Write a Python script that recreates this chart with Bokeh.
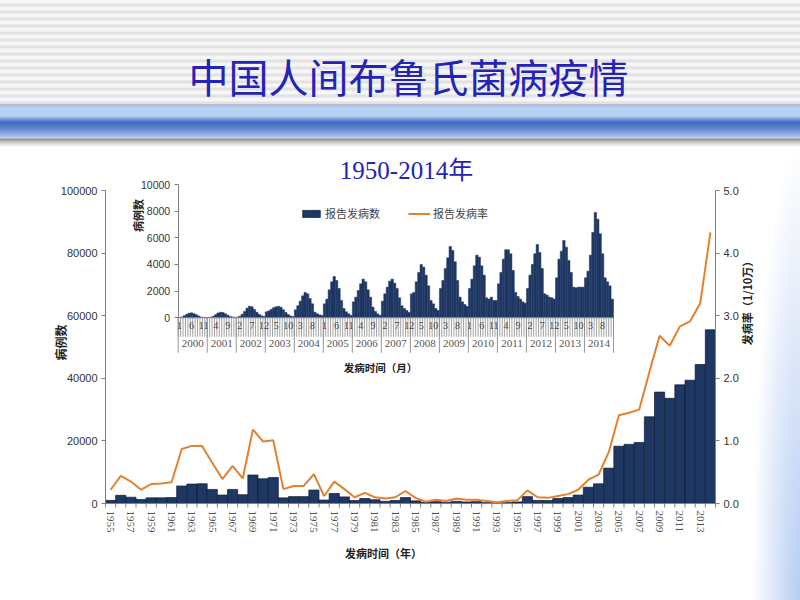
import math
from bokeh.plotting import figure
from bokeh.models import (Range1d, LinearAxis, FixedTicker, NumeralTickFormatter,
                          Label, Legend, LegendItem, ColumnDataSource)
from bokeh.embed import file_html
from bokeh.resources import INLINE

# ---------------- data ----------------
years = list(range(1955, 2015))
cases = [1000, 2600, 2000, 1300, 1800, 1800, 1900, 5600, 6200, 6300,
         4500, 2700, 4500, 2800, 9100, 7900, 8300, 1800, 2200, 2200,
         4300, 1100, 3200, 2100, 950, 1600, 1200, 700, 950, 1900,
         850, 400, 600, 400, 700, 500, 600, 300, 200, 300,
         500, 2200, 1000, 950, 1600, 1900, 2700, 5200, 6300, 11300,
         18300, 18900, 19500, 27700, 35600, 33600, 37900, 39400, 44400, 55500]
rate = [0.22, 0.44, 0.35, 0.22, 0.31, 0.32, 0.34, 0.87, 0.92, 0.92,
        0.65, 0.39, 0.60, 0.40, 1.18, 0.99, 1.01, 0.23, 0.28, 0.28,
        0.47, 0.12, 0.35, 0.23, 0.10, 0.17, 0.10, 0.08, 0.10, 0.20,
        0.09, 0.03, 0.06, 0.04, 0.08, 0.06, 0.06, 0.04, 0.02, 0.04,
        0.05, 0.21, 0.10, 0.09, 0.12, 0.15, 0.22, 0.38, 0.46, 0.82,
        1.41, 1.45, 1.50, 2.10, 2.68, 2.52, 2.83, 2.91, 3.20, 4.33]

inset_years = [str(y) for y in range(2000, 2015)]
m2000 = [30, 60, 150, 260, 340, 370, 310, 230, 130, 60, 30, 20]
m2001 = [20, 40, 110, 230, 360, 420, 390, 300, 200, 100, 60, 40]
m2002 = [60, 120, 260, 480, 720, 870, 830, 620, 420, 260, 150, 100]
m2003 = [450, 520, 640, 760, 830, 860, 790, 600, 400, 240, 140, 90]
m2004 = [600, 900, 1250, 1650, 1900, 1800, 1450, 1050, 420, 300, 220, 170]
m2005 = [1050, 1400, 2100, 2700, 3100, 2800, 2200, 1300, 700, 450, 300, 180]
m2006 = [1200, 1550, 2050, 2550, 2900, 2700, 2100, 1550, 800, 480, 300, 180]
m2007 = [1250, 1800, 2300, 2750, 2900, 2600, 2200, 1500, 900, 700, 550, 400]
m2008 = [1800, 1900, 2700, 3400, 4000, 3800, 3200, 2400, 1300, 1050, 700, 550]
m2009 = [2200, 2800, 3700, 4500, 5350, 5050, 4200, 2800, 1550, 1200, 1000, 850]
m2010 = [2200, 2900, 3900, 4700, 4550, 3900, 3200, 1500, 1400, 1550, 1300, 1300]
m2011 = [2550, 3400, 4400, 5100, 5100, 4800, 3550, 1900, 1600, 1400, 1200, 1100]
m2012 = [2200, 3200, 4000, 4800, 5500, 4900, 3700, 1800, 1700, 1550, 1500, 1400]
m2013 = [3000, 4400, 5000, 5800, 5300, 4300, 3400, 2300, 2250, 2300, 2300, 2300]
m2014 = [3000, 3500, 4700, 6400, 7900, 7400, 6300, 4800, 3000, 2700, 2400, 1400]
monthly = (m2000 + m2001 + m2002 + m2003 + m2004 + m2005 + m2006 + m2007 +
           m2008 + m2009 + m2010 + m2011 + m2012 + m2013 + m2014)
month_idx = list(range(len(monthly)))

left_ticks = [0, 20000, 40000, 60000, 80000, 100000]
right_ticks = [0, 1, 2, 3, 4, 5]
inset_ticks = [0, 2000, 4000, 6000, 8000, 10000]

# ---------------- layout constants (page pixels) ----------------
W, H = 800, 600
# main chart: year 1954.5 at x=105, 2014.5 at x=715 ; 0 at y=503, 100000 at y=190
MX_L, MX_R, MY_0, MY_T = 105.0, 715.0, 503.0, 190.0
ppy = (MX_R - MX_L) / 60.0
ppv = (MY_0 - MY_T) / 100000.0
X0 = 1954.5 - MX_L / ppy
X1 = 2014.5 + (W - MX_R) / ppy
Y0 = -(H - MY_0) / ppv
Y1 = MY_0 / ppv
R0, R1 = Y0 * 5.0 / 100000, Y1 * 5.0 / 100000
# inset: month -0.5 at x=177.7, 179.5 at x=613 ; 0 at y=317.3, 10000 at y=184
IX_L, IX_R, IY_0, IY_T = 177.7, 613.0, 317.3, 184.0
ppm = (IX_R - IX_L) / 180.0
ppc = (IY_0 - IY_T) / 10000.0
IX0 = -0.5 - IX_L / ppm
IX1 = -0.5 + (W - IX_L) / ppm
IY0 = -(H - IY_0) / ppc
IY1 = IY_0 / ppc

navy = "#1f3763"
navy_edge = "#0e1b33"
orange = "#e3812f"
blue_txt = "#2323b8"
CJK = "Noto Sans CJK SC"
SANS = "Liberation Sans"
SERIF = "Liberation Serif"
axis_col = "#808080"
hatch_col = "#8c8c8c"

bg = {
    "background-color": "#ffffff",
    "background-image": ", ".join([
        "linear-gradient(to bottom, #b9b9d2 0px, #b9b9d2 2px, #b4d1f3 3px, #b4d1f3 12px, "
        "#7d9ddc 15px, #4468c6 18px, #5f80cf 24px, #a4bbe7 32px, #c6d4f1 34px, "
        "#8f8f8f 35px, #c8c8c8 38px, #ffffff 43px)",
        "repeating-linear-gradient(to bottom, #f6f6f6 0px, #f6f6f6 3px, #e2e2e2 4px, "
        "#e2e2e2 6px, #f6f6f6 7px)",
        "radial-gradient(ellipse farthest-side at 100% 100%, rgba(178,202,242,0.95) 0%, "
        "rgba(205,220,246,0.75) 50%, rgba(255,255,255,0) 100%)",
    ]),
    "background-size": "100% 43px, 100% 104px, 48px 460px",
    "background-position": "0px 104px, 0px 0px, right bottom",
    "background-repeat": "no-repeat",
}

p = figure(width=W, height=H, output_backend="svg", toolbar_location=None,
           title=None, x_axis_location=None, y_axis_location=None,
           x_range=Range1d(X0, X1), y_range=Range1d(Y0, Y1),
           min_border=0, min_border_left=0, min_border_right=0,
           min_border_top=0, min_border_bottom=0,
           background_fill_color=None, border_fill_color=None,
           outline_line_color=None, styles=bg)
p.grid.visible = False
p.extra_y_ranges = {"rate": Range1d(R0, R1), "iy": Range1d(IY0, IY1)}
p.extra_x_ranges = {"ix": Range1d(IX0, IX1)}

src = ColumnDataSource(dict(year=years, cases=cases, rate=rate))
bars = p.vbar(x="year", top="cases", width=1, source=src, fill_color=navy,
              line_color=navy_edge, line_width=0.7)
ln = p.line(x="year", y="rate", source=src, y_range_name="rate",
            line_color=orange, line_width=2)

isrc = ColumnDataSource(dict(m=month_idx, v=monthly))
p.vbar(x="m", top="v", width=1, source=isrc, x_range_name="ix", y_range_name="iy",
       fill_color=navy, line_color=navy, line_width=0.5)

# category-edge tick marks (bar edges of the main chart, month / year edges of the inset)
year_edges = [y - 0.5 for y in years] + [years[-1] + 0.5]
p.segment(x0=year_edges, x1=year_edges, y0=[0] * len(year_edges),
          y1=[-4 / ppv] * len(year_edges), line_color=axis_col, line_width=1)
month_edges = [i - 0.5 for i in month_idx] + [month_idx[-1] + 0.5]
p.segment(x0=month_edges, x1=month_edges, y0=[0] * len(month_edges),
          y1=[-19 / ppc] * len(month_edges), x_range_name="ix", y_range_name="iy",
          line_color=hatch_col, line_width=0.8)
yedges = [12 * k - 0.5 for k in range(len(inset_years) + 1)]
p.segment(x0=yedges, x1=yedges, y0=[0] * len(yedges), y1=[-35 / ppc] * len(yedges),
          x_range_name="ix", y_range_name="iy", line_color=hatch_col, line_width=0.9)

common = dict(major_tick_in=0, minor_tick_in=0, minor_tick_line_color=None,
              axis_line_color=axis_col, major_tick_line_color=axis_col)

# main left axis
ya = LinearAxis(fixed_location=1954.5, bounds=(0, 100000),
                ticker=FixedTicker(ticks=left_ticks),
                formatter=NumeralTickFormatter(format="0"), major_tick_out=4,
                major_label_text_font=SANS, major_label_text_font_size="11px",
                major_label_text_color="#333333", major_label_standoff=4, **common)
p.add_layout(ya, "left")

# right axis
ra = LinearAxis(y_range_name="rate", fixed_location=2014.5, bounds=(0, 5),
                ticker=FixedTicker(ticks=right_ticks),
                formatter=NumeralTickFormatter(format="0.0"), major_tick_out=4,
                major_label_text_font=SANS, major_label_text_font_size="11px",
                major_label_text_color="#333333", major_label_standoff=4, **common)
p.add_layout(ra, "right")

# main bottom axis: labels every other year
xa = LinearAxis(fixed_location=0, bounds=(1954.5, 2014.5),
                ticker=FixedTicker(ticks=years[::2]),
                formatter=NumeralTickFormatter(format="0"),
                major_tick_out=0, major_tick_in=0, major_tick_line_color=None,
                minor_tick_line_color=None, axis_line_color=axis_col,
                major_label_orientation="vertical",
                major_label_text_font=SERIF, major_label_text_font_size="11px",
                major_label_text_color="#555555", major_label_standoff=7)
p.add_layout(xa, "below")

# inset y axis
iya = LinearAxis(x_range_name="ix", y_range_name="iy", fixed_location=-0.5,
                 bounds=(0, 10000), ticker=FixedTicker(ticks=inset_ticks),
                 formatter=NumeralTickFormatter(format="0"), major_tick_out=4,
                 major_label_text_font=SANS, major_label_text_font_size="10.5px",
                 major_label_text_color="#333333", major_label_standoff=4, **common)
p.add_layout(iya, "left")

# inset month axis: labels every 5th month
mticks = [i for i in month_idx if i % 5 == 0]
mlabels = {i: str(i % 12 + 1) for i in mticks}
mon = LinearAxis(x_range_name="ix", y_range_name="iy", fixed_location=0,
                 bounds=(-0.5, 179.5), ticker=FixedTicker(ticks=mticks),
                 major_label_overrides=mlabels,
                 major_tick_out=0, major_tick_in=0, major_tick_line_color=None,
                 minor_tick_line_color=None, axis_line_color=axis_col,
                 major_label_text_font=SERIF, major_label_text_font_size="10px",
                 major_label_text_color="#444444", major_label_standoff=4)
p.add_layout(mon, "below")

# inset year axis: labels centred in each year
yticks = [12 * k + 5.5 for k in range(len(inset_years))]
yr = LinearAxis(x_range_name="ix", y_range_name="iy", fixed_location=0,
                bounds=(-0.5, 179.5), ticker=FixedTicker(ticks=yticks),
                major_label_overrides={t: s for t, s in zip(yticks, inset_years)},
                major_tick_out=0, major_tick_in=0, major_tick_line_color=None,
                minor_tick_line_color=None, axis_line_color=None,
                major_label_text_font=SERIF, major_label_text_font_size="11px",
                major_label_text_color="#555555", major_label_standoff=22)
p.add_layout(yr, "below")

# legend
legend = Legend(items=[LegendItem(label="报告发病数", renderers=[bars]),
                       LegendItem(label="报告发病率", renderers=[ln])],
                location=(300, H - 221), orientation="horizontal",
                label_text_font=CJK, label_text_font_size="11px",
                label_text_color="#444444", glyph_width=22, glyph_height=9,
                label_height=12, label_standoff=3, spacing=28, padding=0, margin=0,
                border_line_color=None, background_fill_alpha=0)
p.add_layout(legend)

def lab(cx, cy, text, size, color="#222222", font=CJK, angle=0.0, style="normal"):
    # (cx, cy) = centre in page pixels, y downwards
    p.add_layout(Label(x=cx, y=H - cy, x_units="screen", y_units="screen", text=text,
                       text_font=font, text_font_size=size, text_color=color,
                       text_align="center", text_baseline="middle", angle=angle,
                       text_font_style=style))

lab(408, 75, "中国人间布鲁氏菌病疫情", "40px", blue_txt)
lab(406, 170, "1950-2014年", "25px", blue_txt, font="Liberation Serif, Noto Sans CJK SC")
lab(60, 342, "病例数", "12px", angle=math.pi / 2, style="bold")
lab(746, 300, "发病率（1/10万）", "11px", angle=math.pi / 2, style="bold")
lab(383, 552, "发病时间（年）", "11px", style="bold")
lab(380, 367, "发病时间（月）", "10.5px", style="bold")
lab(137, 215, "病例数", "11px", angle=math.pi / 2, style="bold")

open("out.html", "w").write(file_html(p, INLINE))
